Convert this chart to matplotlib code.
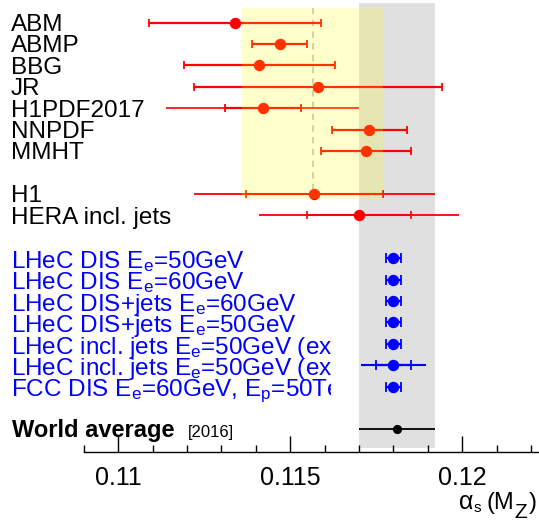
import numpy as np
import matplotlib
matplotlib.use('Agg')
from matplotlib import pyplot as plt
from matplotlib import transforms as mtransforms

plt.rcParams['font.family'] = ['Liberation Sans', 'DejaVu Sans']
plt.rcParams['mathtext.fontset'] = 'custom'
plt.rcParams['mathtext.rm'] = 'Liberation Sans'
plt.rcParams['mathtext.it'] = 'Liberation Sans:italic'

# PDF fits
pdf_names = ['ABM', 'ABMP', 'BBG', 'JR', 'H1PDF2017', 'NNPDF', 'MMHT']
pdf_vals = [0.1134, 0.1147, 0.1141, 0.1158, 0.1142, 0.1173, 0.1172]
pdf_errs = [0.0025, 0.0008, 0.0022, 0.0036, 0.0011, 0.0011, 0.0013]
pdf_tot = [0, 0, 0, 0, 0.0028, 0, 0]

# HERA jet fits
jet_names = ['H1', 'HERA incl. jets']
jet_vals = [0.1157, 0.1170]
jet_exp = [0.0020, 0.0015]
jet_tot = [0.0035, 0.0029]

# LHeC / FCC projections
proj_names = [r'LHeC DIS E$_\mathrm{e}$=50GeV',
              r'LHeC DIS E$_\mathrm{e}$=60GeV',
              r'LHeC DIS+jets E$_\mathrm{e}$=60GeV',
              r'LHeC DIS+jets E$_\mathrm{e}$=50GeV',
              r'LHeC incl. jets E$_\mathrm{e}$=50GeV (exp.)',
              r'LHeC incl. jets E$_\mathrm{e}$=50GeV (exp.+th.)',
              r'FCC DIS E$_\mathrm{e}$=60GeV, E$_\mathrm{p}$=50TeV']
proj_vals = [0.1180, 0.1180, 0.1180, 0.1180, 0.1180, 0.1180, 0.1180]
proj_errs = [0.00022, 0.00022, 0.00022, 0.00022, 0.00022, 0.0005, 0.00022]
proj_tot = [0, 0, 0, 0, 0, 0.00095, 0]

world_val = 0.1181
world_err = 0.0011
pdf_avg = 0.11565
pdf_avg_err = 0.00205

W, H = 539, 524
fig = plt.figure(figsize=(W / 100, H / 100), dpi=100)
ax = fig.add_axes([83.8 / W, 1 - 452 / H, (538 - 83.8) / W, 452 / H])
ax.set_xlim(0.109, 0.1222)
ax.set_ylim(20.06, -1.06)

# rows
pdf_rows = np.arange(len(pdf_names))
jet_rows = np.arange(len(jet_names)) + 8
proj_rows = np.arange(len(proj_names)) + 11
world_row = 19

red = '#ff0000'
blue = '#0000ff'

# world average band
ax.fill_betweenx([-0.92, 19.89], world_val - world_err, world_val + world_err,
                 color='#e0e0e0', lw=0, zorder=0)

for v, r, e, t in zip(pdf_vals, pdf_rows, pdf_errs, pdf_tot):
    if t > 0:
        ax.hlines(r, v - t, v + t, color=red, lw=1.2, zorder=2)
    ax.errorbar(v, r, xerr=e, fmt='o', color=red, ms=7.2, lw=1.6,
                capsize=2.6, capthick=1.3, zorder=3)

for v, r, e, t in zip(jet_vals, jet_rows, jet_exp, jet_tot):
    ax.hlines(r, v - t, v + t, color=red, lw=1.3, zorder=2)
    ax.errorbar(v, r, xerr=e, fmt='o', color=red, ms=7.2, lw=1.5,
                capsize=3.2, capthick=1.2, zorder=3)

for v, r, e, t in zip(proj_vals, proj_rows, proj_errs, proj_tot):
    if t > 0:
        ax.hlines(r, v - t, v + t, color=blue, lw=1.5, zorder=2)
    ax.errorbar(v, r, xerr=e, fmt='o', color=blue, ms=7.2, lw=1.6,
                capsize=3.3, capthick=1.3, zorder=3)

ax.hlines(world_row, world_val - world_err, world_val + world_err,
          color='black', lw=1.3, zorder=2)
ax.plot(world_val, world_row, 'o', color='black', ms=5.6, zorder=3)

# pdf average band
ax.vlines(pdf_avg, -0.69, 8.24, colors='#c4c4c4', linestyles=(0, (3.5, 3)),
          lw=1.3, zorder=1)
ax.fill_betweenx([-0.69, 8.24], pdf_avg - pdf_avg_err, pdf_avg + pdf_avg_err,
                 color='yellow', alpha=0.2, lw=0, zorder=5)

# axis
for s in ['top', 'right', 'left']:
    ax.spines[s].set_visible(False)
ax.spines['bottom'].set_linewidth(1.0)
ax.set_yticks([])
ax.set_xticks([0.11, 0.115, 0.12])
ax.set_xticklabels(['0.11', '0.115', '0.12'])
ax.set_xticks(np.arange(0.109, 0.12225, 0.001), minor=True)
ax.tick_params(axis='x', which='major', direction='in', length=11.5, width=1.0,
               pad=10, labelsize=18)
ax.tick_params(axis='x', which='minor', direction='in', length=5, width=1.0)
ax.patch.set_visible(False)

trans = mtransforms.blended_transform_factory(fig.transFigure, ax.transData)
x0 = 11 / W
for name, r in zip(pdf_names + jet_names, list(pdf_rows) + list(jet_rows)):
    ax.text(x0, r + 0.39, name, transform=trans, fontsize=17.5, color='black',
            clip_on=False)

clip = mtransforms.TransformedBbox(mtransforms.Bbox([[0, 0], [330.6 / W, 1]]),
                                   fig.transFigure)
for name, r in zip(proj_names, proj_rows):
    t = ax.text(x0, r + 0.46, name, transform=trans, fontsize=17.5, color=blue)
    t.set_clip_box(clip)
    t.set_clip_on(True)

ax.text(11.7 / W, world_row + 0.37, 'World average', transform=trans,
        fontsize=17, fontweight='bold', clip_on=False)
ax.text(188 / W, world_row + 0.37, '[2016]', transform=trans, fontsize=12,
        clip_on=False)

# axis title built from pieces: (text, size, baseline shift px, gap px)
title_parts = [('α', 18, 0, 0), ('s', 11, -2.5, 1), ('(M', 17, 0, 5),
               ('Z', 15, -9, 0), (')', 17, 0, 2)]
renderer = fig.canvas.get_renderer()
base = H - 509
texts = []
widths = []
for s, size, dy, gap in title_parts:
    t = fig.text(0, (base + dy) / H, s, fontsize=size, va='baseline')
    texts.append(t)
    widths.append(t.get_window_extent(renderer).width)
total = sum(widths) + sum(p[3] for p in title_parts)
x = 537 - total
for t, w, p in zip(texts, widths, title_parts):
    x += p[3]
    t.set_x(x / W)
    x += w

fig.savefig('out.png', dpi=100)
